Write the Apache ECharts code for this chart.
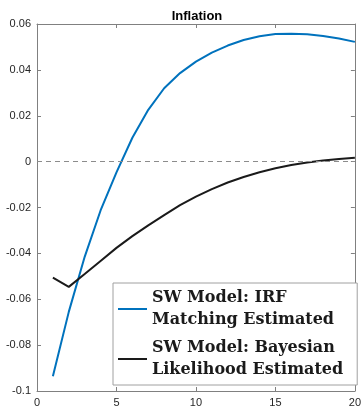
<!DOCTYPE html>
<html>
<head>
<meta charset="utf-8">
<script src="https://cdn.jsdelivr.net/npm/echarts@6/dist/echarts.min.js"></script>
<style>
  html, body { margin: 0; padding: 0; background: #fff; }
  #chart { width: 364px; height: 408px; }
</style>
</head>
<body>
<div id="chart"></div>
<script>
// Horizons (quarters after the shock)
var horizons = [1, 2, 3, 4, 5, 6, 7, 8, 9, 10, 11, 12, 13, 14, 15, 16, 17, 18, 19, 20];

// Inflation response, IRF-matching estimated SW model
var irfMatching = [-0.0936, -0.0655, -0.0415, -0.0213, -0.0047, 0.0104, 0.0226, 0.0320, 0.0386, 0.0436,
                   0.0475, 0.0506, 0.0530, 0.0547, 0.0556, 0.0558, 0.0555, 0.0548, 0.0537, 0.0522];

// Inflation response, Bayesian likelihood estimated SW model
var bayesLikelihood = [-0.0506, -0.0546, -0.0490, -0.0433, -0.0376, -0.0325, -0.0278, -0.0233, -0.0190, -0.0153,
                       -0.0120, -0.0091, -0.0067, -0.0046, -0.0029, -0.0015, -0.0004, 0.0005, 0.0011, 0.0017];

var xTicks = { min: 0, max: 20, step: 5 };
var yTicks = { min: -0.1, max: 0.06, step: 0.02 };

var names = [
  'SW Model: IRF\nMatching Estimated',
  'SW Model: Bayesian\nLikelihood Estimated'
];

function pairs(xs, ys) {
  return xs.map(function (x, i) { return [x, ys[i]]; });
}

var axisColor = '#808080';
var labelColor = '#262626';

var chart = echarts.init(document.getElementById('chart'), null, { renderer: 'canvas' });

var baseX = {
  type: 'value', min: xTicks.min, max: xTicks.max, interval: xTicks.step,
  axisLine: { show: true, onZero: false, lineStyle: { color: axisColor, width: 1 } },
  axisTick: { show: true, inside: true, length: 4, lineStyle: { color: axisColor } },
  splitLine: { show: false }
};
var baseY = {
  type: 'value', min: yTicks.min, max: yTicks.max, interval: yTicks.step,
  axisLine: { show: true, onZero: false, lineStyle: { color: axisColor, width: 1 } },
  axisTick: { show: true, inside: true, length: 4, lineStyle: { color: axisColor } },
  splitLine: { show: false }
};

chart.setOption({
  animation: false,
  backgroundColor: '#ffffff',
  title: {
    text: 'Inflation',
    left: 192, top: 5, textAlign: 'center',
    textStyle: { fontFamily: 'Liberation Sans', fontWeight: 'bold', fontSize: 13, color: '#000' }
  },
  grid: { left: 37, right: 7, top: 24, bottom: 16, containLabel: false },
  xAxis: [
    Object.assign({}, baseX, {
      position: 'bottom',
      axisLabel: { show: true, margin: 6, fontFamily: 'Liberation Sans', fontSize: 11, color: labelColor }
    }),
    Object.assign({}, baseX, { position: 'top', axisLabel: { show: false } })
  ],
  yAxis: [
    Object.assign({}, baseY, {
      position: 'left',
      axisLabel: { show: true, margin: 6, fontFamily: 'Liberation Sans', fontSize: 11, color: labelColor }
    }),
    Object.assign({}, baseY, { position: 'right', axisLabel: { show: false } })
  ],
  legend: {
    orient: 'vertical',
    left: 113, top: 283,
    padding: [4, 14, 4, 5],
    itemGap: 6,
    itemWidth: 29,
    itemHeight: 2,
    icon: 'rect',
    borderColor: '#a0a0a0',
    borderWidth: 1,
    backgroundColor: '#ffffff',
    data: names,
    textStyle: {
      fontFamily: 'DejaVu Serif', fontWeight: 'bold', fontSize: 16,
      lineHeight: 22, color: '#1a1a1a', padding: [0, 0, 0, 0]
    }
  },
  series: [
    {
      name: names[0], type: 'line', xAxisIndex: 0, yAxisIndex: 0,
      data: pairs(horizons, irfMatching),
      symbol: 'none', smooth: false,
      lineStyle: { color: '#0072BD', width: 2 },
      itemStyle: { color: '#0072BD' },
      z: 3,
      markLine: {
        silent: true, symbol: 'none', label: { show: false },
        lineStyle: { color: '#8c8c8c', type: [5, 4], width: 1 },
        data: [{ yAxis: 0 }]
      }
    },
    {
      name: names[1], type: 'line', xAxisIndex: 0, yAxisIndex: 0,
      data: pairs(horizons, bayesLikelihood),
      symbol: 'none', smooth: false,
      lineStyle: { color: '#1a1a1a', width: 2 },
      itemStyle: { color: '#1a1a1a' },
      z: 4
    }
  ]
});
</script>
</body>
</html>
